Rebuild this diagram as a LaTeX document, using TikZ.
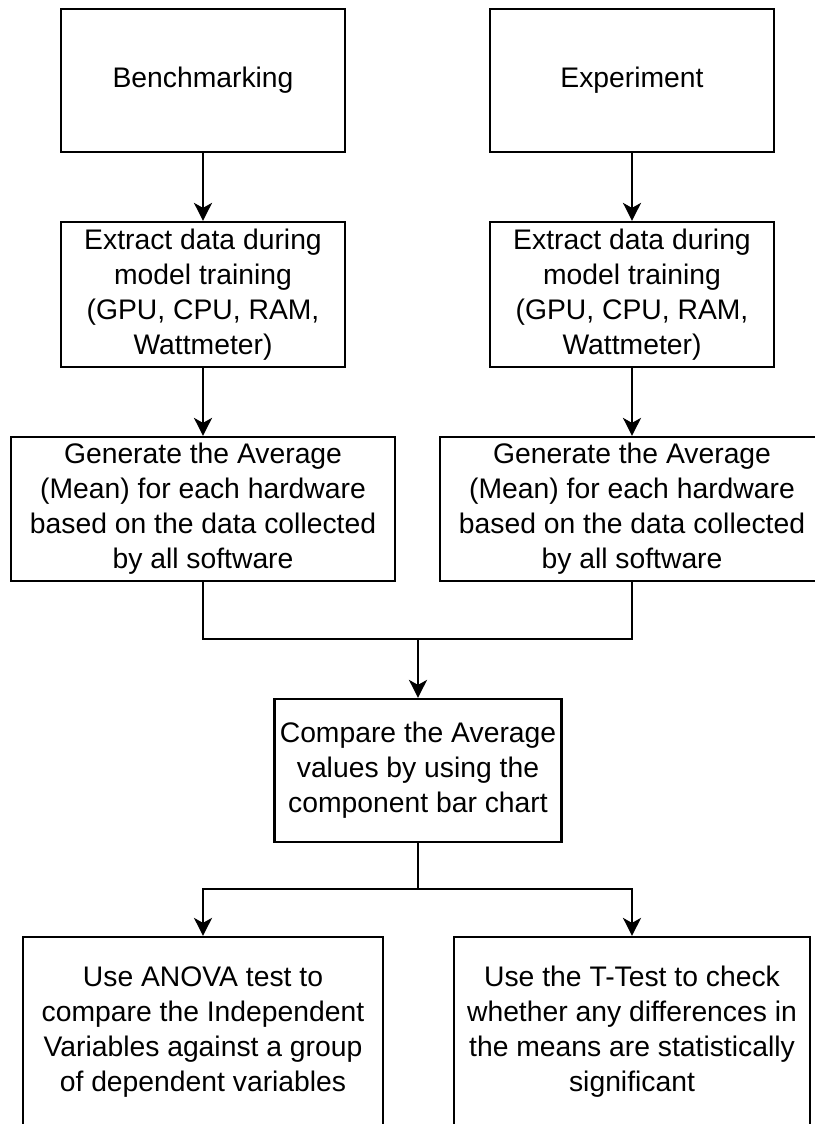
\documentclass[tikz,border=0pt]{standalone}
\usepackage{fontspec}
\setmainfont{Liberation Sans}
\usetikzlibrary{arrows.meta, positioning}

\begin{document}
\begin{tikzpicture}[x=1pt, y=-1pt, >={Stealth[length=18pt,width=18pt,inset=5pt]},
    box/.style={draw, line width=2.2pt, align=center, inner sep=0pt,
        font=\fontsize{28.3}{35}\selectfont},
    link/.style={line width=2.2pt}]
    \useasboundingbox (0,0) rectangle (814,1124);
    \node[box, minimum width=284, minimum height=143] (bench) at (203,80.5) {Benchmarking};
    \node[box, minimum width=284, minimum height=143] (exper) at (632,80.5) {Experiment};
    \node[box, minimum width=284, minimum height=145] (extL) at (203,294.5) {Extract data during\\model training\\(GPU, CPU, RAM,\\Wattmeter)};
    \node[box, minimum width=284, minimum height=145] (extR) at (632,294.5) {Extract data during\\model training\\(GPU, CPU, RAM,\\Wattmeter)};
    \node[box, minimum width=384, minimum height=144] (genL) at (203,509) {Generate the Average\\(Mean) for each hardware\\based on the data collected\\by all software};
    \node[box, minimum width=384, minimum height=144] (genR) at (632,509) {Generate the Average\\(Mean) for each hardware\\based on the data collected\\by all software};
    \node[box, minimum width=287, minimum height=143] (cmp) at (418,770.5) {Compare the Average\\values by using the\\component bar chart};
    \node[box, minimum width=360, minimum height=190] (anova) at (203,1032) {Use ANOVA test to\\compare the Independent\\Variables against a group\\of dependent variables};
    \node[box, minimum width=356, minimum height=190] (ttest) at (632,1032) {Use the T-Test to check\\whether any differences in\\the means are statistically\\significant};
    \coordinate (join) at (418,639);
    \coordinate (fork) at (418,889);
    \draw[->, link] (bench) -- (extL);
    \draw[->, link] (exper) -- (extR);
    \draw[->, link] (extL) -- (genL);
    \draw[->, link] (extR) -- (genR);
    \draw[link] (genL.south) |- (join) -| (genR.south);
    \draw[->, link] (join) -- (cmp);
    \draw[link] (cmp) -- (fork);
    \draw[->, link] (fork) -| (anova.north);
    \draw[->, link] (fork) -| (ttest.north);
\end{tikzpicture}
\end{document}
